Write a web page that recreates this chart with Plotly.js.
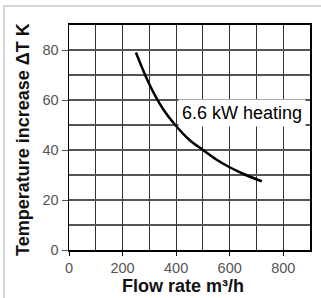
<!DOCTYPE html>
<html>
<head>
<meta charset="utf-8">
<script src="https://cdn.plot.ly/plotly-3.0.1.min.js"></script>
<style>
html,body{margin:0;padding:0;background:#fff;}
#wrap{position:relative;width:321px;height:298px;}
#chart{width:321px;height:298px;}
#frame{position:absolute;left:3px;top:5px;right:0;bottom:0;border-left:2px solid #d6d6d6;border-top:2px solid #d6d6d6;pointer-events:none;}
</style>
</head>
<body>
<div id="wrap"><div id="chart"></div><div id="frame"></div></div>
<script>
// Data
const flowRate = [250, 300, 350, 400, 450, 500, 550, 600, 650, 700, 720];
const deltaT   = [79, 66.3, 56.6, 49.6, 44, 40, 36.2, 33.1, 30.5, 28.3, 27.5];
const curveLabel = '6.6 kW heating';
const xTicks = [0, 200, 400, 600, 800];
const yTicks = [0, 20, 40, 60, 80];
const xTitle = 'Flow rate m³/h';
const yTitle = 'Temperature increase ΔT K';

const tickFont = {family: 'Liberation Sans, Arial, sans-serif', size: 14.5, color: '#555'};
const titleFont = {family: 'Liberation Sans, Arial, sans-serif', size: 18, color: '#111', weight: 'bold'};

Plotly.newPlot('chart', [{
  x: flowRate, y: deltaT, type: 'scatter', mode: 'lines',
  line: {color: '#000', width: 2.5, shape: 'spline', smoothing: 1},
  hoverinfo: 'skip', showlegend: false
}], {
  width: 321, height: 298,
  margin: {l: 69, r: 11, t: 25, b: 48},
  paper_bgcolor: 'rgba(0,0,0,0)', plot_bgcolor: '#fff',
  xaxis: {
    range: [0, 900], tickvals: xTicks, ticktext: xTicks.map(String),
    showgrid: true, gridcolor: '#333', gridwidth: 1,
    minor: {dtick: 100, tick0: 0, showgrid: true, gridcolor: '#333', gridwidth: 1, ticks: ''},
    ticks: 'outside', ticklen: 4, tickcolor: '#000',
    showline: true, linecolor: '#000', linewidth: 2, mirror: true,
    zeroline: false, tickfont: tickFont
  },
  yaxis: {
    range: [0, 90], tickvals: yTicks, ticktext: yTicks.map(String),
    showgrid: true, gridcolor: '#555', gridwidth: 1.5,
    minor: {dtick: 10, tick0: 0, showgrid: true, gridcolor: '#555', gridwidth: 1.5, ticks: ''},
    ticks: 'outside', ticklen: 6, tickcolor: '#555',
    showline: true, linecolor: '#000', linewidth: 1.5, mirror: true,
    zeroline: false, tickfont: tickFont
  },
  annotations: [{
    x: 645, y: 55, xref: 'x', yref: 'y', text: curveLabel, showarrow: false,
    font: {family: 'Liberation Sans, Arial, sans-serif', size: 18, color: '#000'},
    bgcolor: '#fff', borderpad: 3
  }, {
    x: 0.471, y: -0.16, xref: 'paper', yref: 'paper', text: xTitle, showarrow: false,
    font: titleFont, xanchor: 'center', yanchor: 'middle'
  }, {
    x: -0.19, y: 0.49, xref: 'paper', yref: 'paper', text: yTitle, showarrow: false,
    font: titleFont, textangle: -90, xanchor: 'center', yanchor: 'middle'
  }]
}, {displayModeBar: false, staticPlot: true});
</script>
</body>
</html>
